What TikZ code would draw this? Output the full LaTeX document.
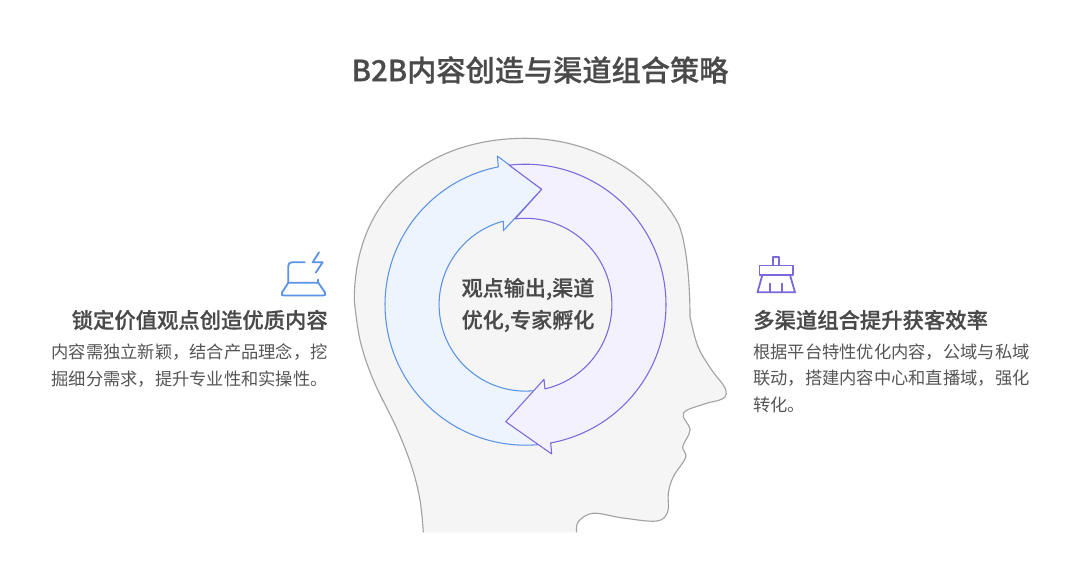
\documentclass[tikz,border=0pt]{standalone}
\usepackage{fontspec}
\setmainfont{Noto Sans CJK SC}[BoldFont={Noto Sans CJK SC Medium},BoldFeatures={FakeBold=0.6}]
\definecolor{inkc}{HTML}{4A4A4A}
\definecolor{bodyc}{HTML}{555555}
\definecolor{headf}{HTML}{F5F5F5}
\definecolor{heads}{HTML}{A3A3A3}
\definecolor{bluef}{HTML}{EDF4FE}
\definecolor{blues}{HTML}{5B93E6}
\definecolor{purpf}{HTML}{F3F1FD}
\definecolor{purps}{HTML}{7C68DC}
\tikzset{
  titletext/.style={font=\fontsize{21.9}{26}\selectfont\bfseries,text=inkc,inner sep=0pt},
  headtext/.style={font=\fontsize{16}{20}\selectfont\bfseries,text=inkc,inner sep=0pt},
  bodytext/.style={font=\fontsize{12.95}{20}\selectfont,text=bodyc,inner sep=0pt},
  centertext/.style={font=\fontsize{15.8}{24}\selectfont\bfseries,text=inkc,inner sep=0pt,align=center},
  bluearrow/.style={fill=bluef,draw=blues,line width=0.8pt,line join=round},
  purplearrow/.style={fill=purpf,draw=purps,line width=0.8pt,line join=round},
  blueicon/.style={draw=blues,line width=1.35pt,line cap=round,line join=round},
  purpleicon/.style={draw=purps,line width=1.35pt,line cap=round,line join=round},
}
\newcommand{\headcurve}{plot[smooth,tension=0.6] coordinates {
  (423.3,532.3) (420,500) (411.7,466.7) (396.7,428.3) (373.3,380) (360,340) (354.3,300)}
  .. controls (354.3,195) and (430,138.3) .. (525,138.3)
  .. controls (590,138.3) and (650,172) .. (678,223)
  .. controls (686,240) and (690,280) .. (690,316.7)
  -- plot[smooth,tension=0.6] coordinates {
  (690,316.7) (698,346.7) (711.7,370) (725,388) (723.3,398.3) (703.3,404.3) (683.3,413.3)
  (690,430) (682.7,446.7) (685.7,457.3) (673.3,476.7) (668.3,493.3) (667.7,511.7)
  (656.7,521) (623,518) (593.3,513.3) (578.3,521.7) (576.7,532.3)}}
\begin{document}
\begin{tikzpicture}[x=0.75pt,y=-0.75pt]
\useasboundingbox (0,0) rectangle (1080,581);
\fill[white] (0,0) rectangle (1080,581);
\node[titletext] (title) at (540,70) {B2B内容创造与渠道组合策略};
% head
\fill[headf] \headcurve;
\draw[heads,line width=0.85pt,line join=round] \headcurve;
% blue arrow
\draw[bluearrow]
  (497.3,156) -- (498.3,166.7)
  -- plot[domain=258.85:80,samples=90] ({525.5+140.5*cos(\x)},{304.7+140.5*sin(\x)})
  -- plot[domain=77:255.1,samples=90] ({525.5+86.4*cos(\x)},{304.7+86.4*sin(\x)})
  -- (503.3,230.7) -- (541.7,189.3) -- cycle;
% purple arrow
\draw[purplearrow]
  (541.7,189.3)
  -- plot[domain=263.07:437,samples=90] ({525.5+86.4*cos(\x)},{304.7+86.4*sin(\x)})
  -- (544,379.3) -- (505.7,421.7) -- (551.7,454) -- (550.7,443.3)
  -- plot[domain=439.7:263.3,samples=90] ({525.5+140.5*cos(\x)},{304.7+140.5*sin(\x)})
  -- cycle;
\node[centertext] (core) at (528,305) {观点输出,渠道\\优化,专家孵化};
% laptop icon
\draw[blueicon] (304.7,262.3) -- (292,262.3) .. controls (289.5,262.3) and (288.3,263.5) .. (288.3,266) -- (288.3,282.7);
\draw[blueicon] (288.3,282.7) -- (318.3,282.7) -- (325,292.5) .. controls (326,295) and (325,295.5) .. (323,295.5) -- (284,295.5) .. controls (282,295.5) and (281,295) .. (282,292.5) -- cycle;
\draw[blueicon] (318.3,282.7) -- (318.3,279.5);
\draw[blueicon] (319,252.3) -- (312.7,262.3) -- (322.7,262.3) -- (315.7,272.7);
\node[headtext,anchor=east] (lefthead) at (328,320) {锁定价值观点创造优质内容};
\node[bodytext,anchor=east] (leftb1) at (328,352) {内容需独立新颖，结合产品理念，挖};
\node[bodytext,anchor=east] (leftb2) at (328,379) {掘细分需求，提升专业性和实操性。};
% broom icon
\draw[purpleicon] (772.7,265.5) -- (772.7,256.7) -- (779,256.7) -- (779,265.5);
\draw[purpleicon] (759.5,265.5) rectangle (793,275);
\draw[purpleicon] (762.3,275) -- (757.5,292.3) -- (795,292.3) -- (790,275);
\draw[purpleicon] (770,283.5) -- (770,292.3);
\draw[purpleicon] (781.7,283.5) -- (781.7,292.3);
\node[headtext,anchor=west] (righthead) at (753,320) {多渠道组合提升获客效率};
\node[bodytext,anchor=west] (rightb1) at (753,352) {根据平台特性优化内容，公域与私域};
\node[bodytext,anchor=west] (rightb2) at (753,378.5) {联动，搭建内容中心和直播域，强化};
\node[bodytext,anchor=west] (rightb3) at (753,405) {转化。};
\end{tikzpicture}
\end{document}
